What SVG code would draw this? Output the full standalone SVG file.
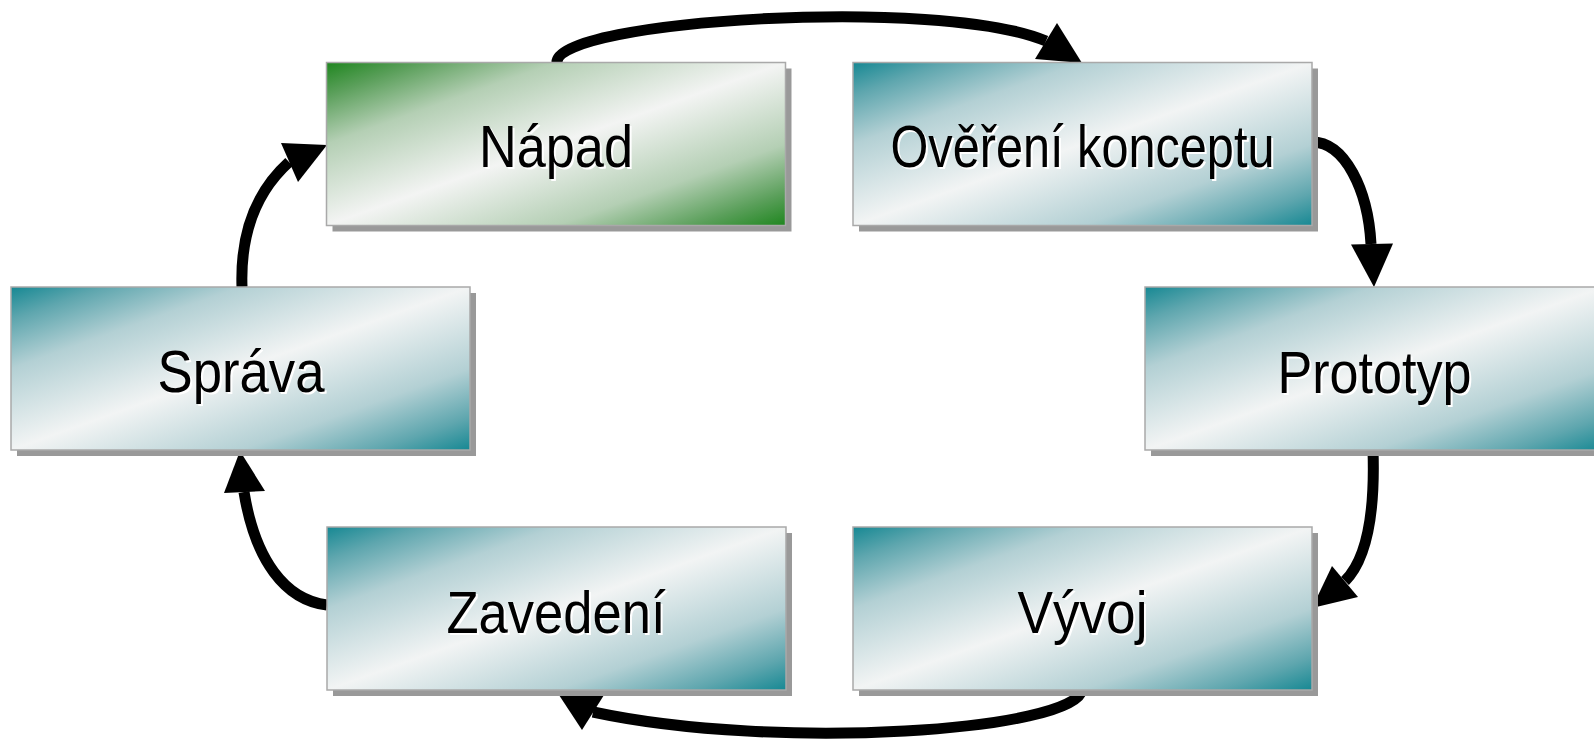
<svg xmlns="http://www.w3.org/2000/svg" width="1594" height="742" viewBox="0 0 1594 742">
<defs>
<linearGradient id="gGreen" x1="0" y1="0" x2="1" y2="1">
<stop offset="0" stop-color="#1f861f"/>
<stop offset="0.1" stop-color="#5a9f5a"/>
<stop offset="0.25" stop-color="#b4cfb4"/>
<stop offset="0.5" stop-color="#f3f4f3"/>
<stop offset="0.75" stop-color="#b4cfb4"/>
<stop offset="0.9" stop-color="#5a9f5a"/>
<stop offset="1" stop-color="#1f861f"/>
</linearGradient>
<linearGradient id="gTeal" x1="0" y1="0" x2="1" y2="1">
<stop offset="0" stop-color="#168893"/>
<stop offset="0.1" stop-color="#5ea6ae"/>
<stop offset="0.25" stop-color="#b3d0d4"/>
<stop offset="0.5" stop-color="#f2f4f4"/>
<stop offset="0.75" stop-color="#b3d0d4"/>
<stop offset="0.9" stop-color="#5ea6ae"/>
<stop offset="1" stop-color="#168893"/>
</linearGradient>
</defs>
<style>
.shadow{fill:#999999}
.box{stroke:#a9a9a9;stroke-width:1.5}
.green{fill:url(#gGreen)}
.teal{fill:url(#gTeal)}
.lbl{font-family:"Liberation Sans",Arial,sans-serif;font-size:60px;text-anchor:middle}
.lblsh{fill:#ffffff}
.lblfg{fill:#000000}
.conn{fill:none;stroke:#000000;stroke-width:11}
.head{fill:#000000}
</style>
<g id="connectors">
<path class="conn" d="M557,62 C557,20 940,-4 1046,41"/>
<polygon class="head" points="1082,63 1035,59 1057,23"/>
<path class="conn" d="M1312,142 C1345,142 1368,190 1371,244"/>
<polygon class="head" points="1374,287 1351,244.5 1393,243.5"/>
<path class="conn" d="M1373,450 C1375,510 1368,558 1345,581"/>
<polygon class="head" points="1312,608 1332,566 1358,597"/>
<path class="conn" d="M1082,690 C1075,730 780,752 593,712"/>
<polygon class="head" points="557,692 604,695 582,730"/>
<path class="conn" d="M327,605 C285,600 255,560 244,492"/>
<polygon class="head" points="240,451 224,493 265,491"/>
<path class="conn" d="M242,287 C240,230 258,190 289,162"/>
<polygon class="head" points="327,145 281,143 298,182"/>
</g>
<g id="napad">
<rect class="shadow" x="332.5" y="68.5" width="459" height="163"/>
<rect class="box green" x="326.5" y="62.5" width="459" height="163"/>
<text class="lbl lblsh" x="558" y="169" textLength="154" lengthAdjust="spacingAndGlyphs">Nápad</text>
<text class="lbl lblfg" x="556" y="167" textLength="154" lengthAdjust="spacingAndGlyphs">Nápad</text>
</g>
<g id="overeni">
<rect class="shadow" x="859" y="68.5" width="459" height="163"/>
<rect class="box teal" x="853" y="62.5" width="459" height="163"/>
<text class="lbl lblsh" x="1084.5" y="169" textLength="384" lengthAdjust="spacingAndGlyphs">Ověření konceptu</text>
<text class="lbl lblfg" x="1082.5" y="167" textLength="384" lengthAdjust="spacingAndGlyphs">Ověření konceptu</text>
</g>
<g id="prototyp">
<rect class="shadow" x="1151" y="293" width="459" height="163"/>
<rect class="box teal" x="1145" y="287" width="459" height="163"/>
<text class="lbl lblsh" x="1376.5" y="395" textLength="194" lengthAdjust="spacingAndGlyphs">Prototyp</text>
<text class="lbl lblfg" x="1374.5" y="393" textLength="194" lengthAdjust="spacingAndGlyphs">Prototyp</text>
</g>
<g id="sprava">
<rect class="shadow" x="17" y="293" width="459" height="163"/>
<rect class="box teal" x="11" y="287" width="459" height="163"/>
<text class="lbl lblsh" x="243" y="394" textLength="167" lengthAdjust="spacingAndGlyphs">Správa</text>
<text class="lbl lblfg" x="241" y="392" textLength="167" lengthAdjust="spacingAndGlyphs">Správa</text>
</g>
<g id="zavedeni">
<rect class="shadow" x="333" y="533" width="459" height="163"/>
<rect class="box teal" x="327" y="527" width="459" height="163"/>
<text class="lbl lblsh" x="558" y="635" textLength="219" lengthAdjust="spacingAndGlyphs">Zavedení</text>
<text class="lbl lblfg" x="556" y="633" textLength="219" lengthAdjust="spacingAndGlyphs">Zavedení</text>
</g>
<g id="vyvoj">
<rect class="shadow" x="859" y="533" width="459" height="163"/>
<rect class="box teal" x="853" y="527" width="459" height="163"/>
<text class="lbl lblsh" x="1084.5" y="635" textLength="130" lengthAdjust="spacingAndGlyphs">Vývoj</text>
<text class="lbl lblfg" x="1082.5" y="633" textLength="130" lengthAdjust="spacingAndGlyphs">Vývoj</text>
</g>
</svg>
